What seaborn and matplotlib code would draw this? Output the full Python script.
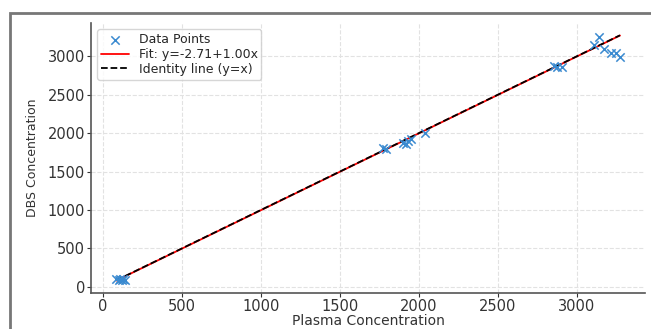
import numpy as np
import pandas as pd
import matplotlib
matplotlib.use("Agg")
import matplotlib.pyplot as plt
import seaborn as sns
from matplotlib.patches import Rectangle

plasma = [85, 100, 110, 120, 130, 140,
          1773, 1794, 1900, 1920, 1931, 1952, 2040,
          2857, 2878, 2910,
          3110, 3141, 3173, 3215, 3247, 3274]
dbs = [105, 95, 100, 90, 100, 95,
       1805, 1792, 1876, 1860, 1897, 1918, 2001,
       2873, 2860, 2860,
       3153, 3257, 3090, 3049, 3049, 2986]
fit_intercept = -2.71
fit_slope = 1.00

sns.set_style("ticks")
plt.rcParams['font.family'] = ['DejaVu Sans']

fig = plt.figure(figsize=(6.51, 3.29), dpi=100)
ax = fig.add_axes([0.140, 0.110, 0.851, 0.820])

df = pd.DataFrame({"Plasma": plasma, "DBS": dbs})
xs = np.array([min(plasma), max(plasma)])
line_df = pd.DataFrame({"x": xs, "fit": fit_intercept + fit_slope * xs, "ident": xs})

sns.scatterplot(data=df, x="Plasma", y="DBS", marker="x", s=36, color="#3a8ad0",
                linewidth=1.1, ax=ax, label="Data Points", zorder=3)
sns.lineplot(data=line_df, x="x", y="fit", color="red", linewidth=1.3, ax=ax,
             label=f"Fit: y={fit_intercept:.2f}+{fit_slope:.2f}x", zorder=2)
sns.lineplot(data=line_df, x="x", y="ident", color="black", linestyle="--",
             linewidth=1.3, ax=ax, label="Identity line (y=x)", zorder=2)

ax.grid(True, linestyle="--", color="#e2e2e2", linewidth=0.8)
ax.set_axisbelow(True)
for s in ["top", "right"]:
    ax.spines[s].set_visible(False)
for s in ["left", "bottom"]:
    ax.spines[s].set_color("#555555")
    ax.spines[s].set_linewidth(1.2)
ax.tick_params(colors="#333333", labelsize=10.5, length=3, pad=1.5)
ax.set_xticks([0, 500, 1000, 1500, 2000, 2500, 3000])
ax.set_yticks([0, 500, 1000, 1500, 2000, 2500, 3000])
ax.set_xlabel("Plasma Concentration", fontsize=10, labelpad=0, color="#333333")
ax.set_ylabel("DBS Concentration", fontsize=9, color="#333333", labelpad=6)
ax.legend(loc="upper left", fontsize=9, frameon=True, borderpad=0.3,
          labelspacing=0.15, handlelength=2.2)

fig.patches.append(Rectangle((10/651, -0.1), 1.2, 0.96 + 0.1, transform=fig.transFigure,
                             fill=False, edgecolor="#777777", linewidth=2))

fig.savefig("out.png", dpi=100)
